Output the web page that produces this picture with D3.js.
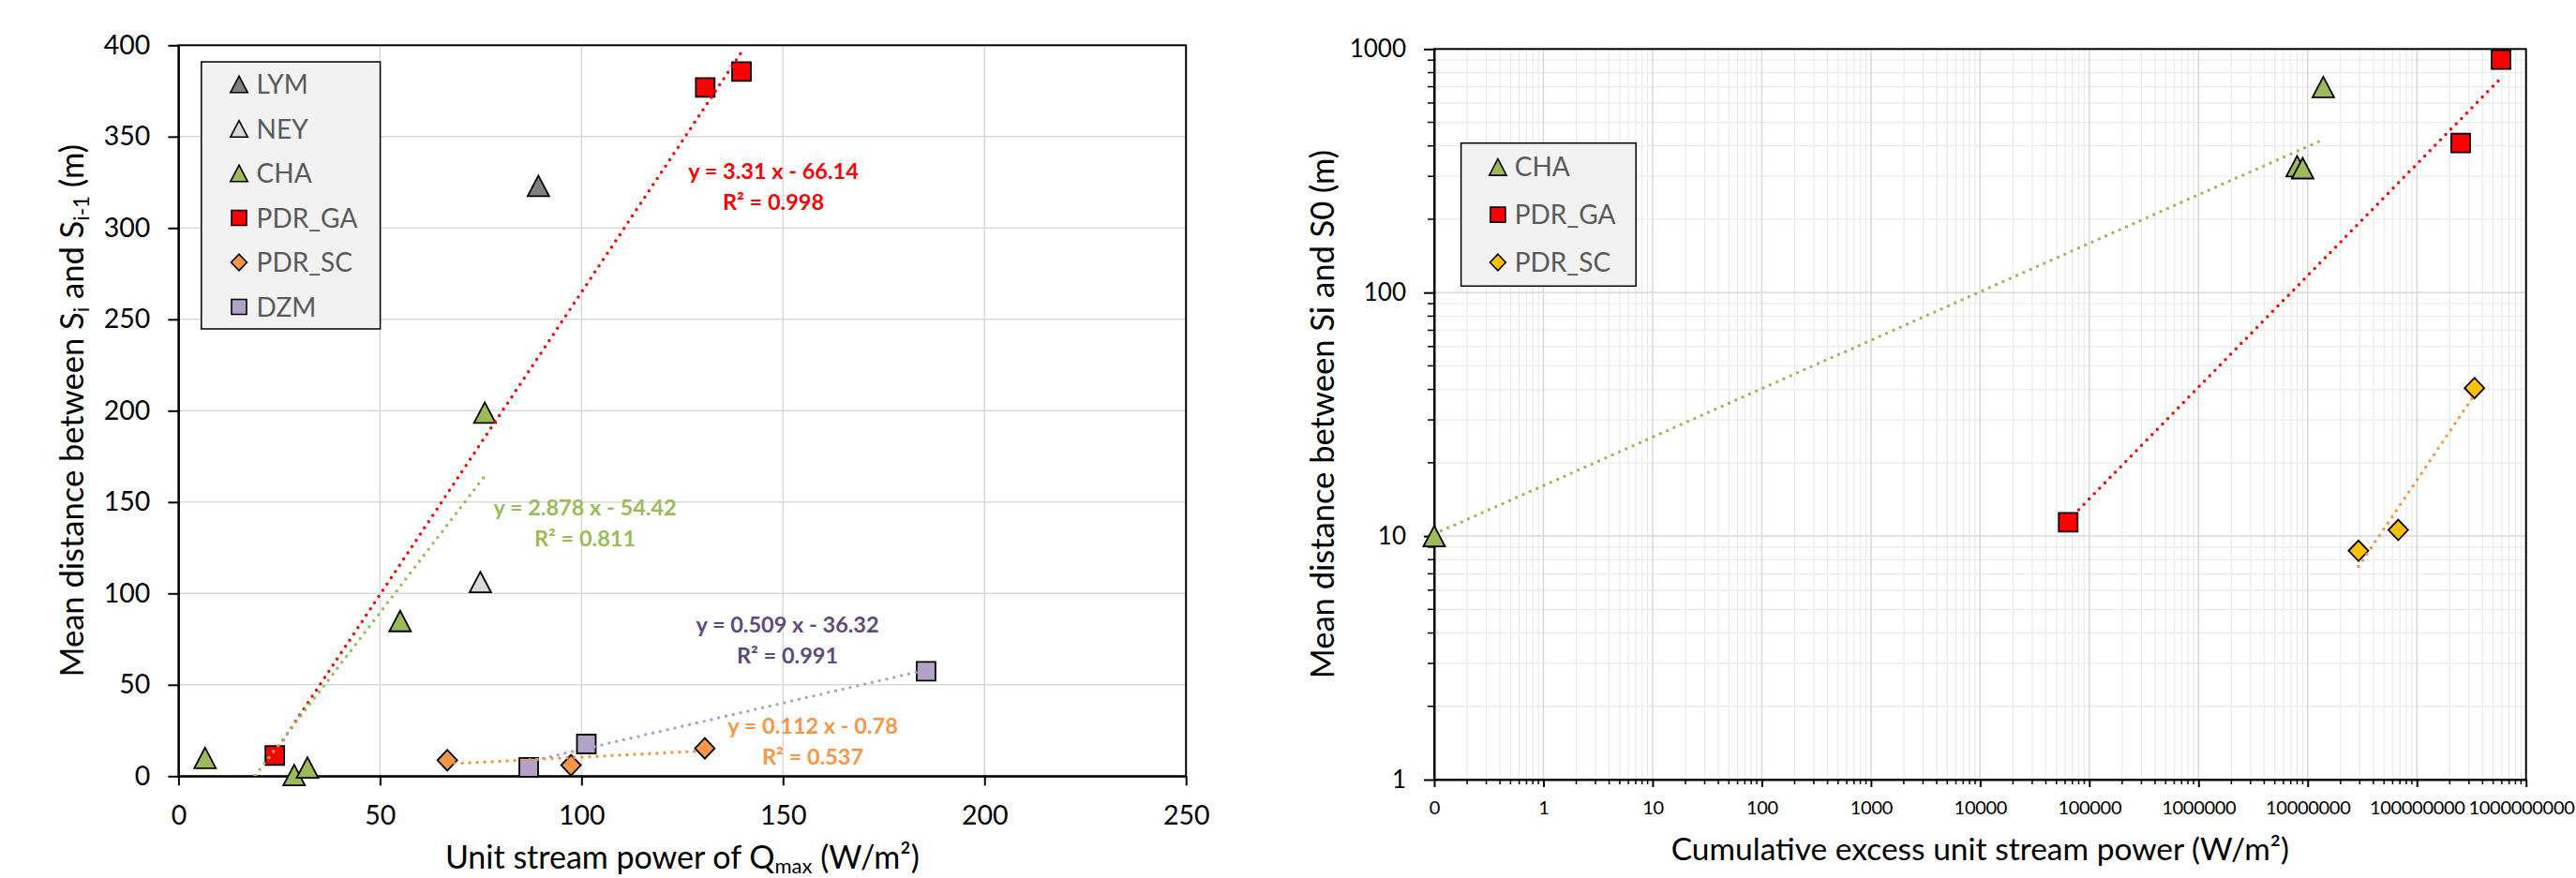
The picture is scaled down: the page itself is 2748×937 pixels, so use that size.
<!DOCTYPE html>
<html>
<head>
<meta charset="utf-8">
<script src="https://cdn.jsdelivr.net/npm/d3@7"></script>
<style>
    body { margin: 0; background: #fff; }
    svg text { font-family: Lato, 'Open Sans', sans-serif; }
</style>
</head>
<body>
<div id="app"></div>
<script>
;(()=>{

    // ---------- left chart : unit stream power of Qmax ----------
    const left_names = ['LYM', 'NEY', 'CHA', 'PDR_GA', 'PDR_SC', 'DZM']
    const lym_x = [89.3],  lym_y = [323]
    const ney_x = [74.9],  ney_y = [106.2]
    const cha_x = [6.6, 28.7, 32.0, 55.0, 76.0],  cha_y = [10.0, 0.6, 4.7, 84.9, 198.9]
    const ga_x  = [23.9, 130.7, 139.7],  ga_y  = [11.3, 376.9, 385.6]
    const sc_x  = [66.7, 97.4, 130.6],   sc_y  = [8.7, 6.0, 15.2]
    const dzm_x = [86.9, 101.2, 185.5],  dzm_y = [4.8, 17.6, 57.4]

    // linear trendlines printed on the chart (y = a x + b)
    const trend_names = ['PDR_GA', 'CHA', 'DZM', 'PDR_SC']
    const trend_a  = [3.31, 2.878, 0.509, 0.112]
    const trend_b  = [-66.14, -54.42, -36.32, -0.78]
    const trend_r2 = ['0.998', '0.811', '0.991', '0.537']

    const left_x_ticks = [0, 50, 100, 150, 200, 250]
    const left_y_ticks = [0, 50, 100, 150, 200, 250, 300, 350, 400]

    // ---------- right chart : cumulative excess unit stream power ----------
    const right_names = ['CHA', 'PDR_GA', 'PDR_SC']
    const cha2_x = [0.1, 8.0e6, 9.0e6, 1.39e7],  cha2_y = [10, 330, 324, 698]
    const ga2_x  = [6.4e4, 2.52e8, 5.9e8],       ga2_y  = [11.4, 411, 904]
    const sc2_x  = [2.92e7, 6.75e7, 3.37e8],     sc2_y  = [8.7, 10.6, 40.5]

    // power trendlines, end points
    const trend2_cha = [[0.1, 10.2], [1.39e7, 425]]
    const trend2_ga  = [[6.4e4, 11.6], [5.9e8, 760]]
    const trend2_sc  = [[2.92e7, 7.5], [3.37e8, 38]]

    const right_x_ticks  = [0.1, 1, 10, 100, 1e3, 1e4, 1e5, 1e6, 1e7, 1e8, 1e9]
    const right_x_labels = ['0', '1', '10', '100', '1000', '10000', '100000', '1000000', '10000000', '100000000', '1000000000']
    const right_y_ticks  = [1, 10, 100, 1000]

    // ---------- styles ----------
    const fill = {
        LYM: '#808080', NEY: '#d9d9d9', CHA: '#9bbb59',
        PDR_GA: '#ff0000', PDR_SC: '#f79646', DZM: '#b3a2c7'
    }
    const fill_right = { CHA: '#9bbb59', PDR_GA: '#ff0000', PDR_SC: '#ffc000' }
    const shape = {
        LYM: 'triangle', NEY: 'triangle', CHA: 'triangle',
        PDR_GA: 'square', PDR_SC: 'diamond', DZM: 'square'
    }
    const line_color  = { PDR_GA: '#ff0000', CHA: '#9bbb59', DZM: '#b3a2c7', PDR_SC: '#f79646' }
    const label_color = { PDR_GA: '#ff0000', CHA: '#9bbb59', DZM: '#604a7b', PDR_SC: '#f79646' }
    const label_pos   = { PDR_GA: [825, 191], CHA: [624, 550], DZM: [840, 675], PDR_SC: [867, 783] }

    const width = 2748
    const height = 937

    const marker = (s, k = 1) => {
        if (s === 'triangle') {
            const w = 23 * k, h = 22 * k
            return `M0,${-h/2}L${w/2},${h/2}L${-w/2},${h/2}Z`
        }
        if (s === 'diamond') {
            const w = 21 * k, h = 22 * k
            return `M0,${-h/2}L${w/2},0L0,${h/2}L${-w/2},0Z`
        }
        const w = 20 * k
        return `M${-w/2},${-w/2}h${w}v${w}h${-w}Z`
    }

    const svg = d3
        .create('svg')
        .attr('viewBox', [0, 0, width, height])
        .attr('width', width)
        .attr('height', height)
        .style('background', '#fff')

    // ================= LEFT =================
    const x_l = d3.scaleLinear().domain([0, 250]).range([190.4, 1265.2])
    const y_l = d3.scaleLinear().domain([0, 400]).range([828.3, 48.3])

    svg.append('clipPath').attr('id', 'clip-l')
        .append('rect')
        .attr('x', x_l.range()[0]).attr('y', y_l.range()[1])
        .attr('width', x_l.range()[1] - x_l.range()[0])
        .attr('height', y_l.range()[0] - y_l.range()[1])

    const grid_l = svg.append('g').attr('stroke', '#d9d9d9').attr('stroke-width', 1.5)
    grid_l.selectAll('.gx')
        .data(left_x_ticks.slice(1, -1))
        .join('line')
        .attr('x1', d => x_l(d)).attr('x2', d => x_l(d))
        .attr('y1', y_l.range()[0]).attr('y2', y_l.range()[1])
    grid_l.selectAll('.gy')
        .data(left_y_ticks.slice(1, -1))
        .join('line')
        .attr('y1', d => y_l(d)).attr('y2', d => y_l(d))
        .attr('x1', x_l.range()[0]).attr('x2', x_l.range()[1])

    svg.append('rect')
        .attr('x', x_l.range()[0]).attr('y', y_l.range()[1])
        .attr('width', x_l.range()[1] - x_l.range()[0])
        .attr('height', y_l.range()[0] - y_l.range()[1])
        .attr('fill', 'none').attr('stroke', '#000').attr('stroke-width', 2)

    const ax_lx = svg.append('g')
        .attr('transform', `translate(0, ${y_l.range()[0]})`)
        .call(d3.axisBottom(x_l).tickValues(left_x_ticks).tickSize(10).tickSizeOuter(0).tickPadding(21))
    const ax_ly = svg.append('g')
        .attr('transform', `translate(${x_l.range()[0]}, 0)`)
        .call(d3.axisLeft(y_l).tickValues(left_y_ticks).tickSize(11).tickSizeOuter(0).tickPadding(19))

    ;[ax_lx, ax_ly].forEach(a => {
        a.attr('font-family', null).attr('font-size', 28.5)
        a.selectAll('path, line').attr('stroke', '#000').attr('stroke-width', 2)
        a.selectAll('text').attr('fill', '#000')
    })

    const series_l = [
        { name: 'LYM', x: lym_x, y: lym_y },
        { name: 'NEY', x: ney_x, y: ney_y },
        { name: 'CHA', x: cha_x, y: cha_y },
        { name: 'PDR_GA', x: ga_x, y: ga_y },
        { name: 'PDR_SC', x: sc_x, y: sc_y },
        { name: 'DZM', x: dzm_x, y: dzm_y },
    ]

    svg.append('g')
        .selectAll('g')
        .data(series_l)
        .join('g')
        .selectAll('path')
        .data(s => s.x.map((v, i) => ({ name: s.name, x: v, y: s.y[i] })))
        .join('path')
        .attr('d', d => marker(shape[d.name]))
        .attr('transform', d => `translate(${x_l(d.x)}, ${y_l(d.y)})`)
        .attr('fill', d => fill[d.name])
        .attr('stroke', '#000')
        .attr('stroke-width', 1.8)

    const trends_l = trend_names.map((n, i) => {
        const s = series_l.find(d => d.name === n)
        const x0 = d3.min(s.x), x1 = d3.max(s.x)
        return { name: n, a: trend_a[i], b: trend_b[i], r2: trend_r2[i],
                 pts: [[x0, trend_a[i] * x0 + trend_b[i]], [x1, trend_a[i] * x1 + trend_b[i]]] }
    })

    svg.append('g')
        .attr('clip-path', 'url(#clip-l)')
        .selectAll('path')
        .data(trends_l)
        .join('path')
        .attr('d', d => d3.line().x(p => x_l(p[0])).y(p => y_l(p[1]))(d.pts))
        .attr('fill', 'none')
        .attr('stroke', d => line_color[d.name])
        .attr('stroke-width', 3.5)
        .attr('stroke-linecap', 'round')
        .attr('stroke-dasharray', '0 8')

    const eq = svg.append('g')
        .selectAll('text')
        .data(trends_l)
        .join('text')
        .attr('text-anchor', 'middle')
        .attr('font-size', 23.5)
        .attr('font-weight', 'bold')
        .attr('fill', d => label_color[d.name])
    eq.append('tspan')
        .attr('x', d => label_pos[d.name][0])
        .attr('y', d => label_pos[d.name][1])
        .text(d => `y = ${d.a} x - ${Math.abs(d.b)}`)
    eq.append('tspan')
        .attr('x', d => label_pos[d.name][0])
        .attr('y', d => label_pos[d.name][1] + 33)
        .text(d => `R² = ${d.r2}`)

    // legend
    const leg_l = svg.append('g')
    leg_l.append('rect')
        .attr('x', 214.8).attr('y', 66).attr('width', 190.8).attr('height', 285)
        .attr('fill', '#f2f2f2').attr('stroke', '#000').attr('stroke-width', 1.5)
    const leg_l_item = leg_l.selectAll('g')
        .data(left_names)
        .join('g')
        .attr('transform', (d, i) => `translate(255, ${90 + i * 47.5})`)
    leg_l_item.append('path')
        .attr('d', d => marker(shape[d], 0.8))
        .attr('fill', d => fill[d]).attr('stroke', '#000').attr('stroke-width', 1.6)
    leg_l_item.append('text')
        .attr('x', 18.6).attr('dy', '0.36em')
        .attr('font-size', 28).attr('fill', '#595959')
        .text(d => d)

    // axis titles
    svg.append('text')
        .attr('x', (x_l.range()[0] + x_l.range()[1]) / 2)
        .attr('y', 927)
        .attr('text-anchor', 'middle')
        .attr('font-size', 34)
        .call(t => {
            t.append('tspan').text('Unit stream power of Q')
            t.append('tspan').attr('font-size', 22).attr('dy', 5).text('max')
            t.append('tspan').attr('dy', -5).text(' (W/m²)')
        })

    svg.append('text')
        .attr('transform', `translate(89, ${(y_l.range()[0] + y_l.range()[1]) / 2}) rotate(-90)`)
        .attr('text-anchor', 'middle')
        .attr('font-size', 34.5)
        .call(t => {
            t.append('tspan').text('Mean distance between S')
            t.append('tspan').attr('font-size', 22.5).attr('dy', 6).text('i')
            t.append('tspan').attr('dy', -6).text(' and S')
            t.append('tspan').attr('font-size', 22.5).attr('dy', 6).text('i-1')
            t.append('tspan').attr('dy', -6).text(' (m)')
        })

    // ================= RIGHT =================
    const x_r = d3.scaleLog().domain([0.1, 1e9]).range([1530, 2694.7])
    const y_r = d3.scaleLog().domain([1, 1000]).range([832, 52.3])

    svg.append('clipPath').attr('id', 'clip-r')
        .append('rect')
        .attr('x', x_r.range()[0]).attr('y', y_r.range()[1])
        .attr('width', x_r.range()[1] - x_r.range()[0])
        .attr('height', y_r.range()[0] - y_r.range()[1])

    const minor_x = x_r.ticks(30).filter(d => !right_x_ticks.includes(d))
    const minor_y = y_r.ticks(30).filter(d => !right_y_ticks.includes(d))

    const grid_r = svg.append('g')
    grid_r.append('g').attr('stroke', '#ececec').attr('stroke-width', 1.3)
        .call(g => g.selectAll('.mx').data(minor_x).join('line')
            .attr('x1', d => x_r(d)).attr('x2', d => x_r(d))
            .attr('y1', y_r.range()[0]).attr('y2', y_r.range()[1]))
        .call(g => g.selectAll('.my').data(minor_y).join('line')
            .attr('y1', d => y_r(d)).attr('y2', d => y_r(d))
            .attr('x1', x_r.range()[0]).attr('x2', x_r.range()[1]))
    grid_r.append('g').attr('stroke', '#d9d9d9').attr('stroke-width', 1.5)
        .call(g => g.selectAll('.gx').data(right_x_ticks.slice(1, -1)).join('line')
            .attr('x1', d => x_r(d)).attr('x2', d => x_r(d))
            .attr('y1', y_r.range()[0]).attr('y2', y_r.range()[1]))
        .call(g => g.selectAll('.gy').data(right_y_ticks.slice(1, -1)).join('line')
            .attr('y1', d => y_r(d)).attr('y2', d => y_r(d))
            .attr('x1', x_r.range()[0]).attr('x2', x_r.range()[1]))

    svg.append('rect')
        .attr('x', x_r.range()[0]).attr('y', y_r.range()[1])
        .attr('width', x_r.range()[1] - x_r.range()[0])
        .attr('height', y_r.range()[0] - y_r.range()[1])
        .attr('fill', 'none').attr('stroke', '#000').attr('stroke-width', 2)

    // minor tick marks
    svg.append('g').attr('stroke', '#000').attr('stroke-width', 1.5)
        .call(g => g.selectAll('.tx').data(minor_x).join('line')
            .attr('x1', d => x_r(d)).attr('x2', d => x_r(d))
            .attr('y1', y_r.range()[0]).attr('y2', y_r.range()[0] + 5))
        .call(g => g.selectAll('.ty').data(minor_y).join('line')
            .attr('y1', d => y_r(d)).attr('y2', d => y_r(d))
            .attr('x1', x_r.range()[0]).attr('x2', x_r.range()[0] - 7))

    const ax_rx = svg.append('g')
        .attr('transform', `translate(0, ${y_r.range()[0]})`)
        .call(d3.axisBottom(x_r).tickValues(right_x_ticks)
            .tickFormat((d, i) => right_x_labels[i])
            .tickSize(8).tickSizeOuter(0).tickPadding(15))
    const ax_ry = svg.append('g')
        .attr('transform', `translate(${x_r.range()[0]}, 0)`)
        .call(d3.axisLeft(y_r).tickValues(right_y_ticks)
            .tickFormat(d3.format('d'))
            .tickSize(11).tickSizeOuter(0).tickPadding(19))
    ax_rx.attr('font-family', null).attr('font-size', 20)
    ax_rx.selectAll('text').attr('letter-spacing', -0.3)
    ax_ry.attr('font-family', null).attr('font-size', 26)
    ;[ax_rx, ax_ry].forEach(a => {
        a.selectAll('path, line').attr('stroke', '#000').attr('stroke-width', 2)
        a.selectAll('text').attr('fill', '#000')
    })

    const series_r = [
        { name: 'CHA', x: cha2_x, y: cha2_y, trend: trend2_cha },
        { name: 'PDR_GA', x: ga2_x, y: ga2_y, trend: trend2_ga },
        { name: 'PDR_SC', x: sc2_x, y: sc2_y, trend: trend2_sc },
    ]

    svg.append('g')
        .selectAll('g')
        .data(series_r)
        .join('g')
        .selectAll('path')
        .data(s => s.x.map((v, i) => ({ name: s.name, x: v, y: s.y[i] })))
        .join('path')
        .attr('d', d => marker(shape[d.name]))
        .attr('transform', d => `translate(${x_r(d.x)}, ${y_r(d.y)})`)
        .attr('fill', d => fill_right[d.name])
        .attr('stroke', '#000')
        .attr('stroke-width', 1.8)

    svg.append('g')
        .attr('clip-path', 'url(#clip-r)')
        .selectAll('path')
        .data(series_r)
        .join('path')
        .attr('d', d => d3.line().x(p => x_r(p[0])).y(p => y_r(p[1]))(d.trend))
        .attr('fill', 'none')
        .attr('stroke', d => line_color[d.name])
        .attr('stroke-width', 3.5)
        .attr('stroke-linecap', 'round')
        .attr('stroke-dasharray', '0 8')

    const leg_r = svg.append('g')
    leg_r.append('rect')
        .attr('x', 1558.6).attr('y', 152.7).attr('width', 186.6).attr('height', 152.6)
        .attr('fill', '#f2f2f2').attr('stroke', '#000').attr('stroke-width', 1.5)
    const leg_r_item = leg_r.selectAll('g')
        .data(right_names)
        .join('g')
        .attr('transform', (d, i) => `translate(1597.9, ${178.3 + i * 50.85})`)
    leg_r_item.append('path')
        .attr('d', d => marker(shape[d], 0.8))
        .attr('fill', d => fill_right[d]).attr('stroke', '#000').attr('stroke-width', 1.6)
    leg_r_item.append('text')
        .attr('x', 17.8).attr('dy', '0.36em')
        .attr('font-size', 28).attr('fill', '#595959')
        .text(d => d)

    svg.append('text')
        .attr('x', (x_r.range()[0] + x_r.range()[1]) / 2)
        .attr('y', 918)
        .attr('text-anchor', 'middle')
        .attr('font-size', 33.5)
        .text('Cumulative excess unit stream power (W/m²)')

    svg.append('text')
        .attr('transform', `translate(1423, ${(y_r.range()[0] + y_r.range()[1]) / 2}) rotate(-90)`)
        .attr('text-anchor', 'middle')
        .attr('font-size', 34.5)
        .text('Mean distance between Si and S0 (m)')

    d3.select('#app').append(() => svg.node())

    // keep the last x label inside the page
    const last = ax_rx.selectAll('.tick text').filter((d, i, n) => i === n.length - 1)
    const box = last.node().getBBox()
    const over = x_r.range()[1] + box.x + box.width - (width - 2)
    if (over > 0) last.attr('x', -over)

})()
</script>
</body>
</html>
